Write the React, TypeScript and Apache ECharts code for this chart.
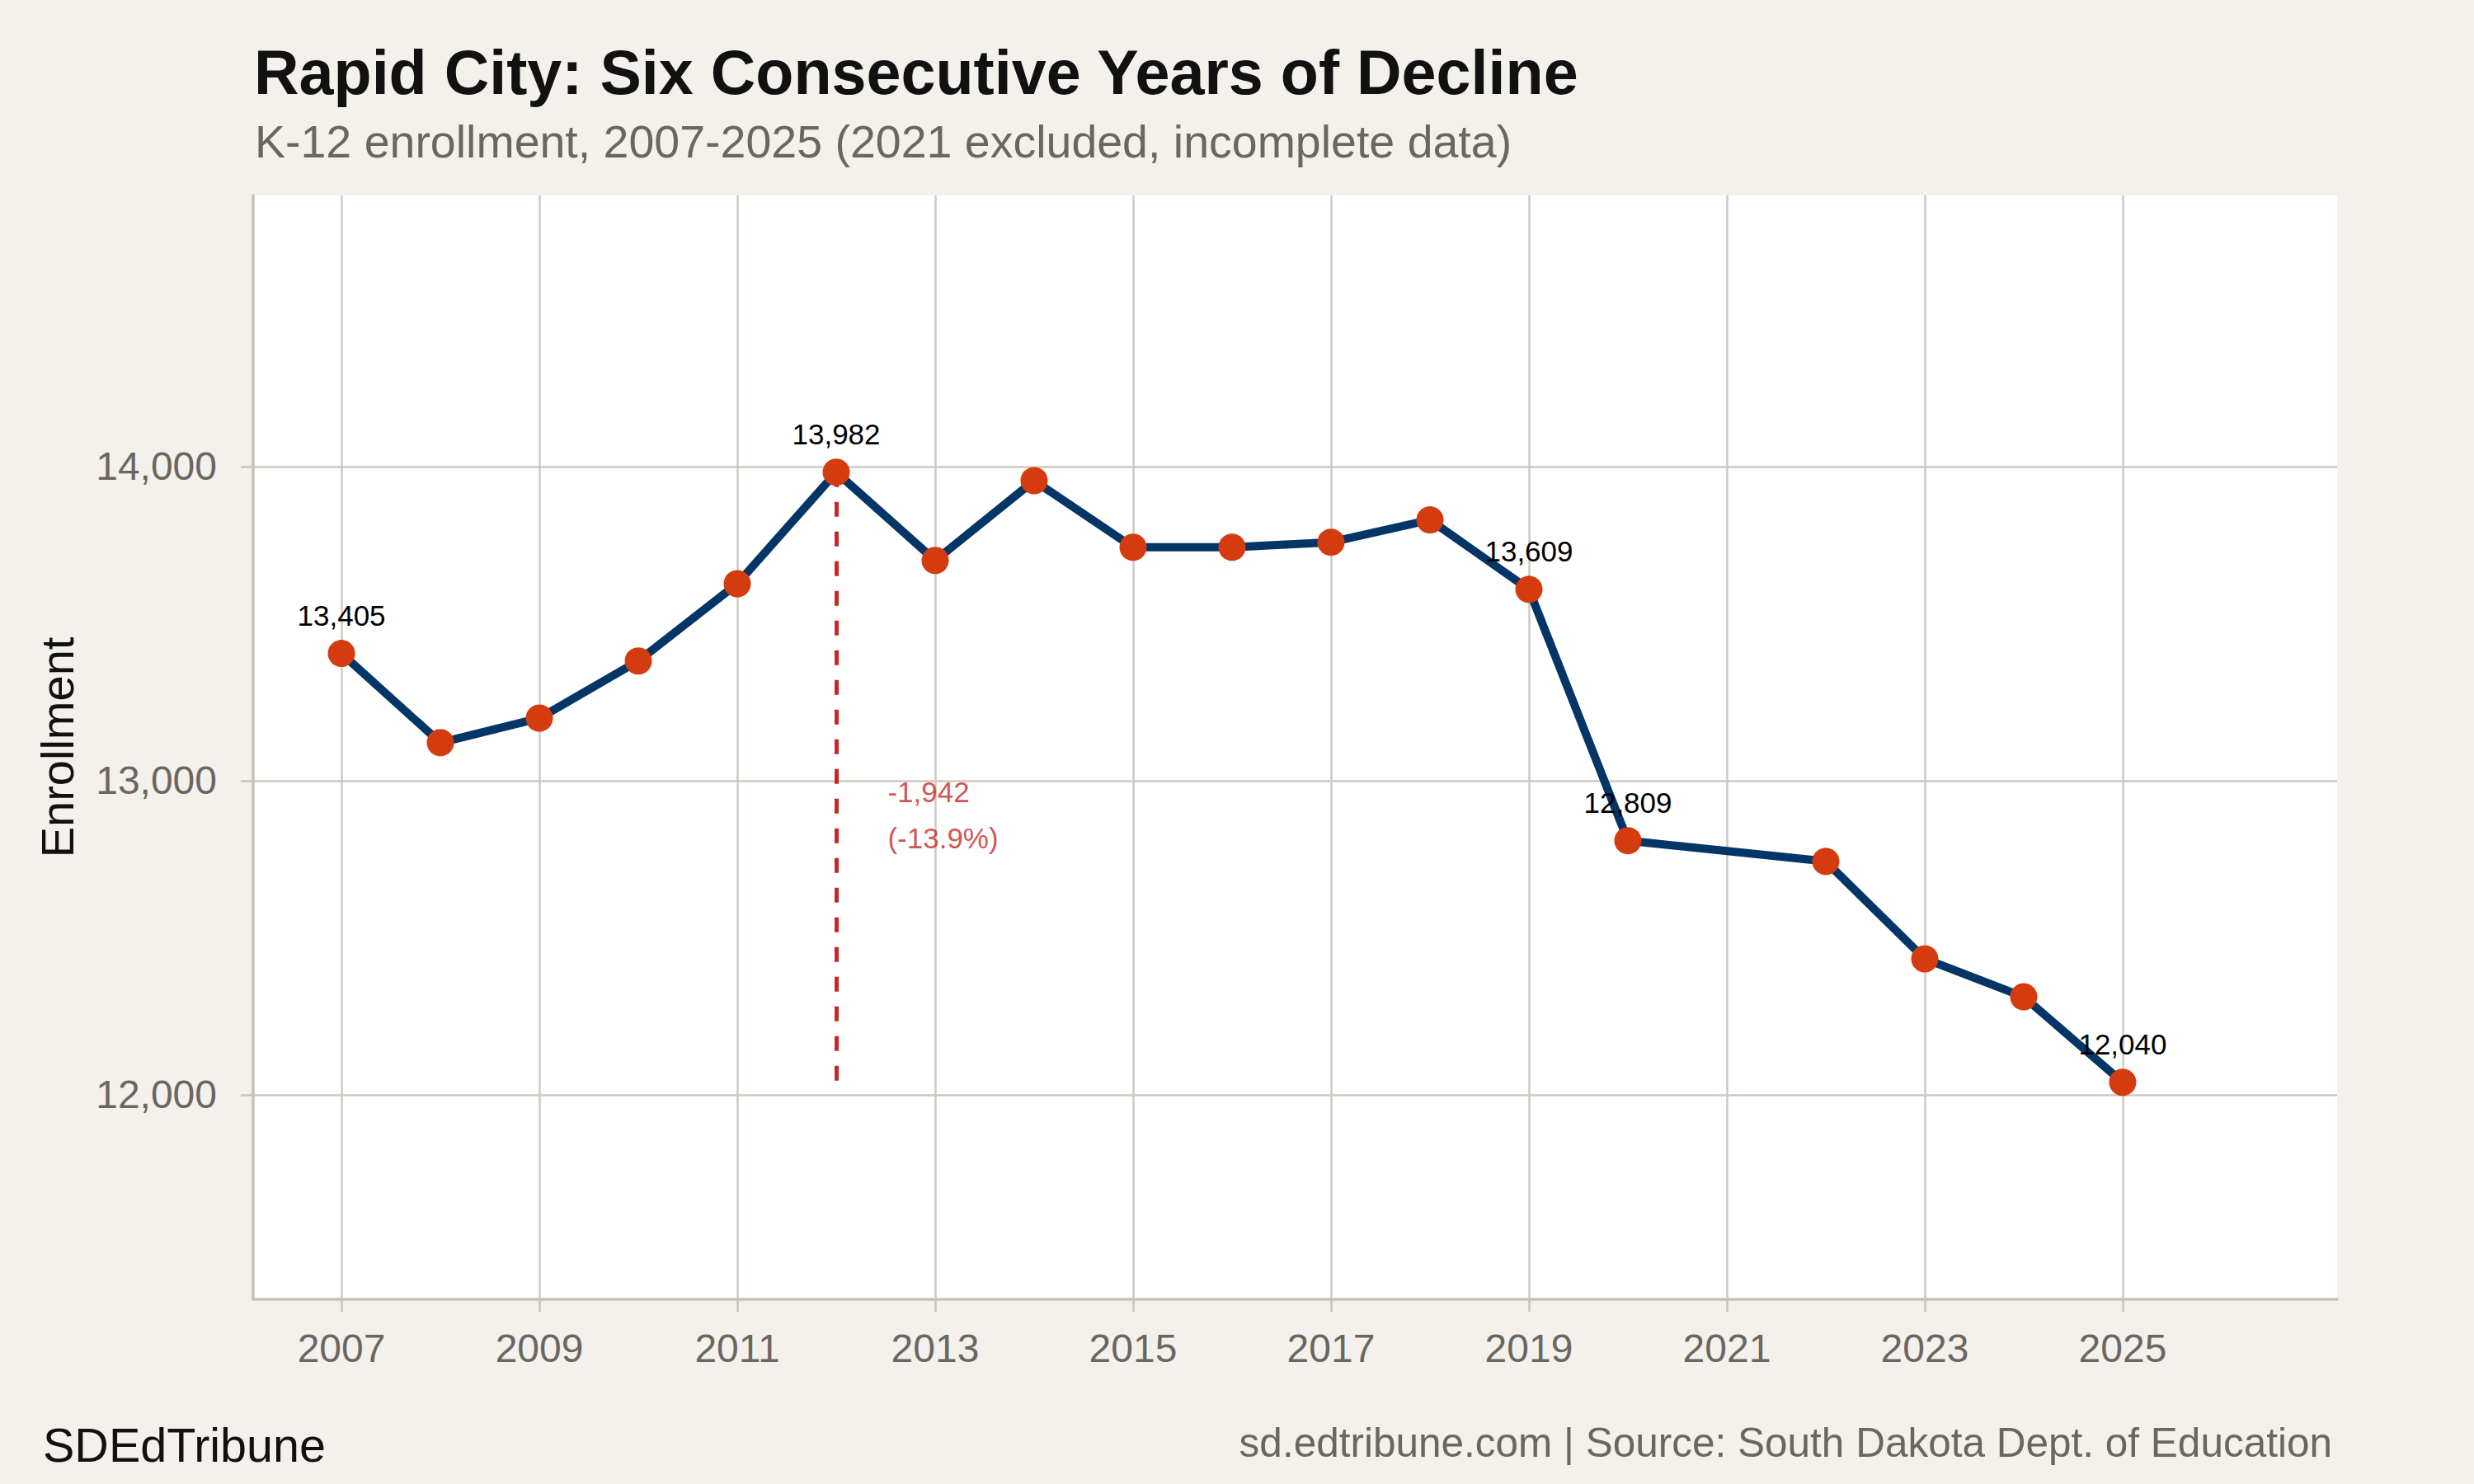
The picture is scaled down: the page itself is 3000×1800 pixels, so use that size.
import React, { useRef, useEffect } from 'react';
import * as echarts from 'echarts';

// K-12 enrollment, Rapid City (2021 excluded)
const years = [2007, 2008, 2009, 2010, 2011, 2012, 2013, 2014, 2015, 2016, 2017, 2018, 2019, 2020, 2022, 2023, 2024, 2025];
const enrollment = [13405, 13121, 13199, 13381, 13627, 13982, 13701, 13955, 13743, 13743, 13759, 13830, 13609, 12809, 12743, 12433, 12312, 12040];
const labeledYears = [2007, 2012, 2019, 2020, 2025];
const xTicks = [2007, 2009, 2011, 2013, 2015, 2017, 2019, 2021, 2023, 2025];
const yTicks = [12000, 13000, 14000];

const peakYear = 2012;
const lastYear = 2025;
const noteX = 2012.52;
const noteY = 12890;

const FONT = '"Liberation Sans", Arial, Helvetica, sans-serif';
const fmt = (v: number) => v.toLocaleString('en-US');

const App: React.FC = () => {
  const chartRef = useRef<HTMLDivElement>(null);

  useEffect(() => {
    document.body.style.margin = '0';
    if (!chartRef.current) return;
    const chart = echarts.init(chartRef.current, null, { renderer: 'svg' });

    const peak = enrollment[years.indexOf(peakYear)];
    const last = enrollment[years.indexOf(lastYear)];
    const change = last - peak;
    const pct = (change / peak) * 100;

    const option = {
      animation: false,
      backgroundColor: '#F4F1EC',
      textStyle: { fontFamily: FONT },
      title: [
        {
          text: 'Rapid City: Six Consecutive Years of Decline',
          left: 303, top: 45,
          textStyle: { fontFamily: FONT, fontSize: 75.5, fontWeight: 'bold', color: '#111111' },
        },
        {
          text: 'K-12 enrollment, 2007-2025 (2021 excluded, incomplete data)',
          left: 304, top: 139,
          textStyle: { fontFamily: FONT, fontSize: 55.5, fontWeight: 'normal', color: '#6B6660' },
        },
        {
          text: 'SDEdTribune',
          left: 47, top: 1719,
          textStyle: { fontFamily: FONT, fontSize: 57.5, fontWeight: 'normal', color: '#111111' },
        },
        {
          text: 'sd.edtribune.com | Source: South Dakota Dept. of Education',
          right: 167, top: 1719,
          textStyle: { fontFamily: FONT, fontSize: 49.5, fontWeight: 'normal', color: '#6B6660' },
        },
      ],
      grid: {
        left: 307, top: 237, width: 2527, height: 1339,
        show: true, backgroundColor: '#FFFFFF', borderWidth: 0,
      },
      xAxis: {
        type: 'value',
        min: 2006.108,
        max: 2027.167,
        axisLine: { show: true, lineStyle: { color: '#C8C1B7', width: 3.5 } },
        axisTick: { show: true, length: 15, customValues: xTicks, lineStyle: { color: '#C8C1B7', width: 2.5 } },
        axisLabel: {
          customValues: xTicks, margin: 35, fontSize: 48, color: '#6B6660', fontFamily: FONT,
          formatter: (v: number) => String(v),
        },
        splitLine: { show: true, lineStyle: { color: '#CFC9C0', width: 2.5 } },
      },
      yAxis: {
        type: 'value',
        min: 11349,
        max: 14863,
        name: 'Enrollment',
        nameLocation: 'middle',
        nameGap: 210,
        nameTextStyle: { fontSize: 56, color: '#111111', fontFamily: FONT },
        axisLine: { show: true, lineStyle: { color: '#C8C1B7', width: 3.5 } },
        axisTick: { show: true, length: 15, customValues: yTicks, lineStyle: { color: '#C8C1B7', width: 2.5 } },
        axisLabel: {
          customValues: yTicks, margin: 44, fontSize: 48, color: '#6B6660', fontFamily: FONT,
          formatter: (v: number) => fmt(v),
        },
        splitLine: { show: true, lineStyle: { color: '#CFC9C0', width: 2.5 } },
      },
      series: [
        {
          type: 'line',
          data: years.map((y, i) => ({
            value: [y, enrollment[i]],
            label: { show: labeledYears.includes(y) },
          })),
          lineStyle: { color: '#033566', width: 10 },
          itemStyle: { color: '#D43B0F' },
          symbol: 'circle',
          symbolSize: 33,
          z: 3,
          label: {
            position: 'top',
            distance: 12,
            fontSize: 35,
            color: '#000000',
            fontFamily: FONT,
            formatter: (p: any) => fmt(p.value[1]),
          },
          markLine: {
            silent: true,
            symbol: 'none',
            label: { show: false },
            lineStyle: { color: '#C62828', width: 5, type: [18, 18] },
            z: 2,
            data: [[{ coord: [peakYear, peak] }, { coord: [peakYear, last] }]],
          },
        },
        {
          type: 'scatter',
          silent: true,
          symbolSize: 0,
          data: [[noteX, noteY]],
          label: {
            show: true,
            position: 'right',
            distance: 0,
            fontSize: 35,
            lineHeight: 56,
            color: '#C62828',
            fontFamily: FONT,
            formatter: () => `${fmt(change)}\n(${pct.toFixed(1)}%)`,
          },
        },
      ],
    };
    chart.setOption(option);

    return () => {
      chart.dispose();
    };
  }, []);

  return <div ref={chartRef} style={{ width: 3000, height: 1800 }} />;
};

export default App;
